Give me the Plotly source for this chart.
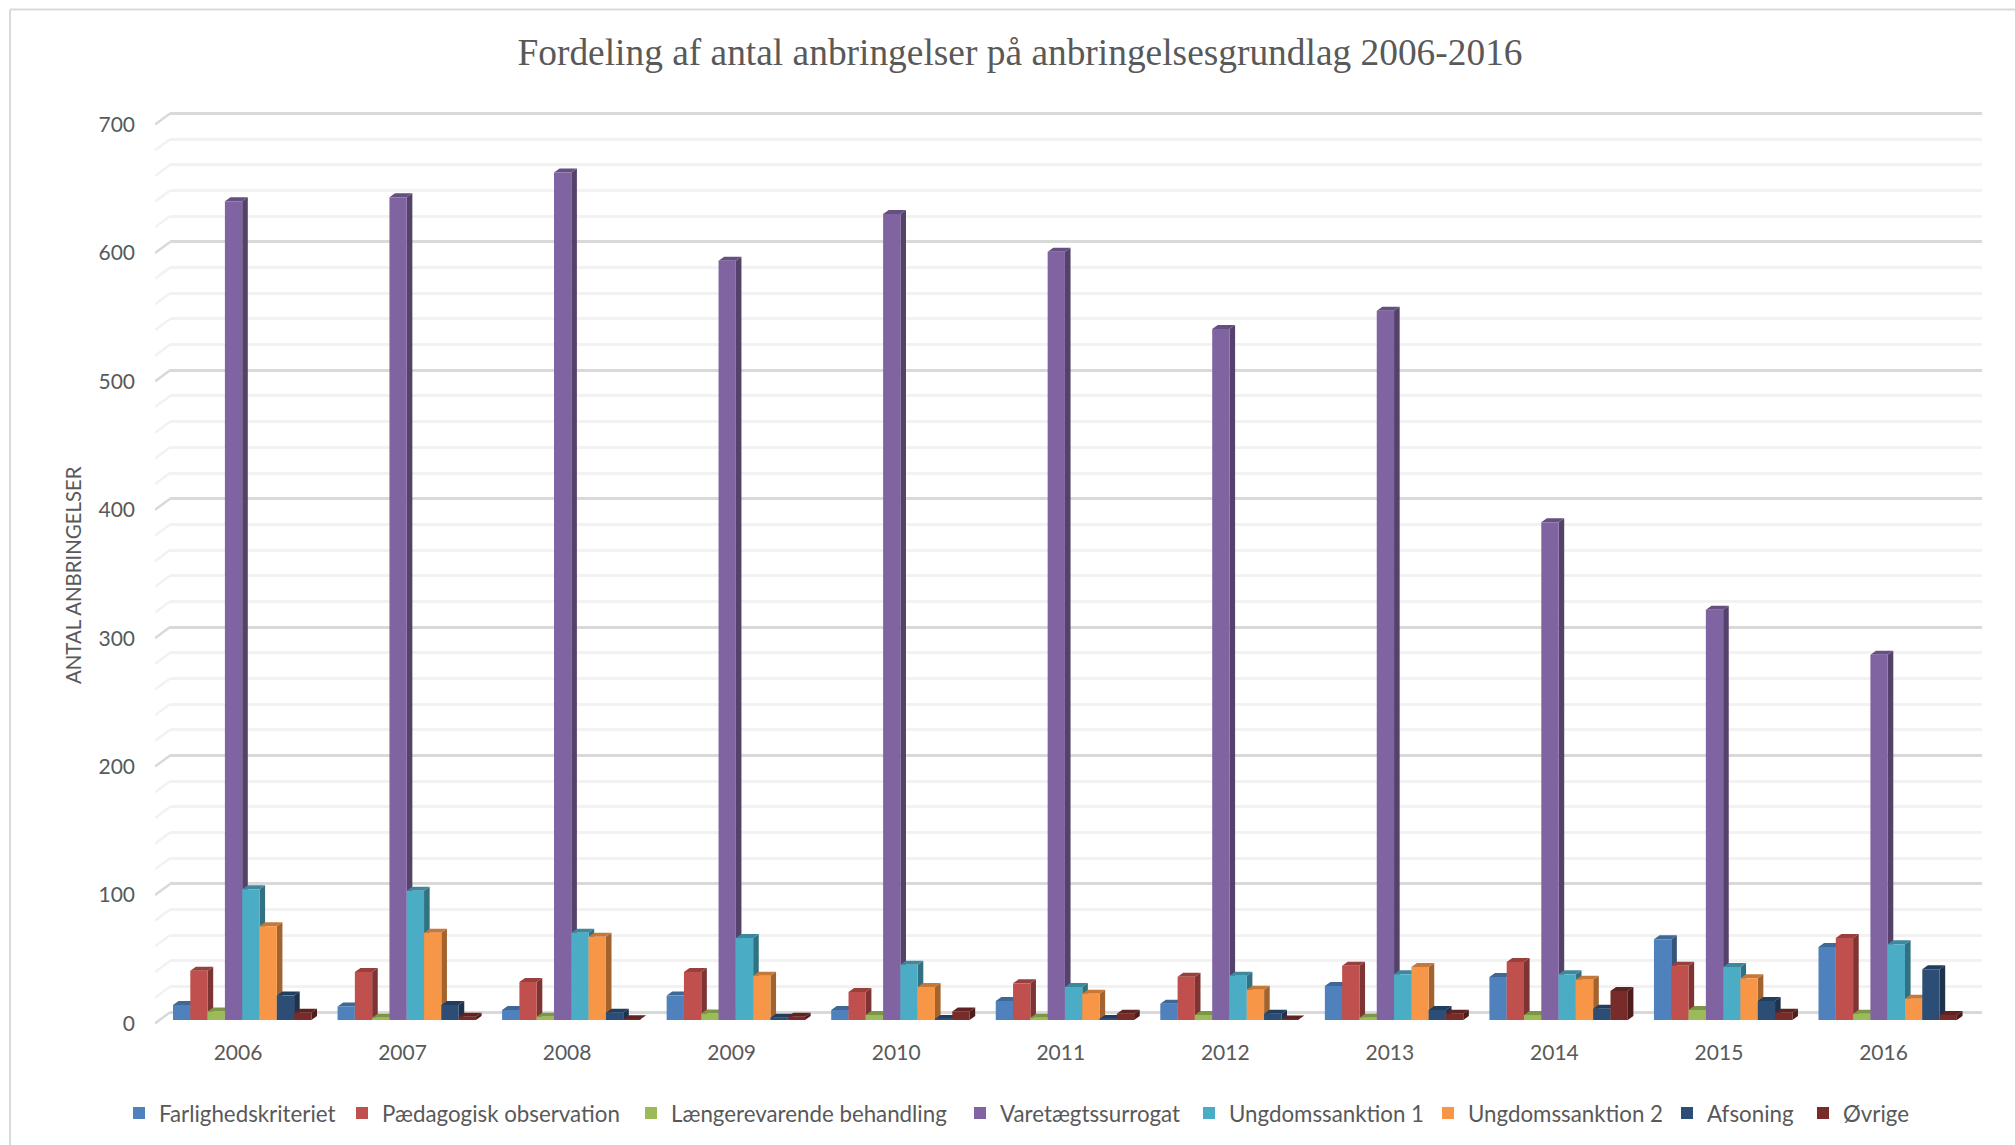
import plotly.graph_objects as go

# ---- data ----
years = ["2006", "2007", "2008", "2009", "2010", "2011", "2012", "2013", "2014", "2015", "2016"]
farlighed = [11.7, 10.6, 7.8, 19.0, 7.8, 14.8, 12.7, 26.5, 33.5, 62.8, 56.9]
paedagogisk = [38.4, 37.4, 29.6, 37.4, 21.8, 28.6, 33.7, 42.3, 45.2, 42.3, 63.9]
laengere = [6.7, 1.8, 2.6, 5.0, 3.9, 1.8, 3.9, 1.8, 3.9, 7.8, 4.9]
varetaegt = [637.6, 640.7, 660.0, 591.4, 627.7, 598.4, 538.2, 552.4, 387.6, 319.6, 284.5]
ungdom1 = [101.8, 100.7, 68.0, 63.9, 43.0, 25.7, 34.5, 35.6, 35.6, 41.3, 58.9]
ungdom2 = [73.0, 68.0, 64.9, 34.5, 25.7, 20.5, 23.6, 41.3, 31.4, 32.5, 16.6]
afsoning = [19.0, 11.7, 5.7, 1.8, 0.8, 0.8, 4.9, 7.8, 8.8, 14.8, 39.5]
oevrige = [5.7, 2.6, 0.5, 2.6, 6.7, 4.9, 0.3, 4.9, 22.6, 5.7, 3.9]

names = ["Farlighedskriteriet", "Pædagogisk observation", "Længerevarende behandling",
         "Varetægtssurrogat", "Ungdomssanktion 1", "Ungdomssanktion 2", "Afsoning", "Øvrige"]
values = [farlighed, paedagogisk, laengere, varetaegt, ungdom1, ungdom2, afsoning, oevrige]
colors = ["#4F81BD", "#C0504D", "#9BBB59", "#8064A2", "#4BACC6", "#F79646", "#2C4D75", "#772C2A"]

major_ticks = [0, 100, 200, 300, 400, 500, 600, 700]
minor_ticks = [v for v in range(20, 700, 20) if v % 100]

# ---- geometry in pixels of the 2015x1145 page ----
W, H = 2015, 1145
PLOT_B = 1040                  # bottom of the plotting area; below it is a fixed margin
TOP, BOTTOM = 100, 1030        # vertical extent of all subplots
FRONT_L, BACK_L, RIGHT = 155, 170, 1982
STEP = 164.55                  # px per category
K = 1.284                      # px per value unit
LABEL_C, BAR_C = 238, 242.2    # px centre of first category: labels / bars
Y0_BAR, Y0_BACK, Y0_WALL = 1020, 1012.3, 1023.4
BAR_W = 17.3 / STEP
DEPTH_X, DEPTH_Y = 5.6 / STEP, 4 / K
legend_text_px = [159, 382, 671, 1000, 1229, 1468, 1707, 1843]
LEGEND_Y = 1113
GREY = "#595959"
FONT = "Lato"


def fy(px):
    return (PLOT_B - px) / PLOT_B


def shade(hex_color, f):
    r, g, b = (int(hex_color[i:i + 2], 16) for i in (1, 3, 5))
    return f"rgb({int(r * f)},{int(g * f)},{int(b * f)})"


def yr(y0):
    return [(y0 - BOTTOM) / K, (y0 - TOP) / K]


def xr(c):
    return [(FRONT_L - c) / STEP, (RIGHT - c) / STEP]


fig = go.Figure()

# carrier so the back-plane grid subplot exists
fig.add_trace(go.Scatter(x=[0.5] * len(major_ticks), y=major_ticks, xaxis="x", yaxis="y", mode="none",
                         showlegend=False, hoverinfo="skip"))

# 3D sides and tops, computed from the values
n_series = len(values)
for j, (vals, col) in enumerate(zip(values, colors)):
    sx, sy, tx, ty = [], [], [], []
    for i, v in enumerate(vals):
        left = i - n_series * BAR_W / 2 + j * BAR_W
        right = left + BAR_W
        sx += [right, right + DEPTH_X, right + DEPTH_X, right, right, None]
        sy += [0, DEPTH_Y, v + DEPTH_Y, v, 0, None]
        tx += [left, right, right + DEPTH_X, left + DEPTH_X, left, None]
        ty += [v, v, v + DEPTH_Y, v + DEPTH_Y, v, None]
    fig.add_trace(go.Scatter(x=sx, y=sy, xaxis="x3", yaxis="y3", mode="lines", fill="toself",
                             line=dict(width=0), fillcolor=shade(col, 0.66),
                             showlegend=False, hoverinfo="skip"))
    fig.add_trace(go.Scatter(x=tx, y=ty, xaxis="x3", yaxis="y3", mode="lines", fill="toself",
                             line=dict(width=0), fillcolor=shade(col, 0.8),
                             showlegend=False, hoverinfo="skip"))

# front faces
for j, (name, vals, col) in enumerate(zip(names, values, colors)):
    fig.add_trace(go.Bar(x=list(range(len(years))), y=vals, name=name, xaxis="x4", yaxis="y4",
                         marker=dict(color=col, line=dict(width=0)),
                         legend="legend" if j == 0 else f"legend{j + 1}"))

# wall segments joining the tick positions to the back plane grid
wall_dx = (BACK_L - FRONT_L) / STEP
wall_dy = (Y0_WALL - Y0_BACK) / K
x_left = xr(LABEL_C)[0]
for ticks, col in ((major_ticks, "#D9D9D9"), (minor_ticks, "#F2F2F2")):
    wx, wy = [], []
    for v in ticks:
        wx += [x_left, x_left + wall_dx, None]
        wy += [v, v + wall_dy, None]
    fig.add_trace(go.Scatter(x=wx, y=wy, xaxis="x2", yaxis="y2", mode="lines",
                             line=dict(color=col, width=2.5), showlegend=False, hoverinfo="skip"))

ydom = [fy(BOTTOM), fy(TOP)]
fdom = [FRONT_L / W, RIGHT / W]
bdom = [BACK_L / W, RIGHT / W]
tick_font = dict(family=FONT, size=21, color=GREY)

layout = dict(
    width=W, height=H, margin=dict(l=0, r=0, t=0, b=H - PLOT_B), autosize=False,
    paper_bgcolor="white", plot_bgcolor="rgba(0,0,0,0)",
    barmode="group", bargap=1 - n_series * BAR_W, bargroupgap=0,
    # back-plane grid
    xaxis=dict(domain=bdom, range=[0, 1], anchor="y", showticklabels=False, showgrid=False, zeroline=False,
               showline=False, ticks=""),
    yaxis=dict(domain=ydom, range=yr(Y0_BACK), anchor="x", tickvals=major_ticks, showticklabels=False,
               showgrid=True, gridcolor="#D9D9D9", gridwidth=2.5, zeroline=False, showline=False, ticks="",
               minor=dict(tickvals=minor_ticks, showgrid=True, gridcolor="#F2F2F2", gridwidth=2.5, ticks="")),
    # front plane: tick labels and wall
    xaxis2=dict(domain=fdom, range=xr(LABEL_C), anchor="y2", tickvals=list(range(len(years))), ticktext=years,
                showgrid=False, zeroline=False, showline=False, ticks="", tickfont=tick_font,
                ticklabelstandoff=8),
    yaxis2=dict(domain=ydom, range=yr(Y0_WALL), anchor="x2", tickvals=major_ticks, showgrid=False,
                zeroline=False, showline=False, ticks="", tickfont=tick_font, ticklabelstandoff=19),
    # bars
    xaxis3=dict(domain=fdom, range=xr(BAR_C), anchor="y3", visible=False),
    yaxis3=dict(domain=ydom, range=yr(Y0_BAR), anchor="x3", visible=False),
    xaxis4=dict(domain=fdom, range=xr(BAR_C), anchor="y4", visible=False),
    yaxis4=dict(domain=ydom, range=yr(Y0_BAR), anchor="x4", visible=False),
    title=dict(text="Fordeling af antal anbringelser på anbringelsesgrundlag 2006-2016",
               x=1020 / W, xanchor="center", y=1 - 52 / H, yanchor="middle",
               font=dict(family="Liberation Serif", size=37.4, color=GREY)),
    annotations=[dict(text="ANTAL ANBRINGELSER", textangle=-90, xref="paper", yref="paper",
                      x=73 / W, y=fy(575), xanchor="center", yanchor="middle", showarrow=False,
                      font=dict(family=FONT, size=20.4, color=GREY))],
    shapes=[
        dict(type="line", xref="paper", yref="paper", x0=10 / W, x1=10 / W, y0=fy(H), y1=fy(9.5),
             line=dict(color="#D9D9D9", width=2)),
        dict(type="line", xref="paper", yref="paper", x0=10 / W, x1=1, y0=fy(9.5), y1=fy(9.5),
             line=dict(color="#D9D9D9", width=2)),
    ],
)
for j, px in enumerate(legend_text_px):
    key = "legend" if j == 0 else f"legend{j + 1}"
    layout[key] = dict(x=(px - 40) / W, y=fy(LEGEND_Y), xanchor="left", yanchor="middle",
                       orientation="h", bgcolor="rgba(0,0,0,0)", borderwidth=0,
                       font=dict(family=FONT, size=22.3, color=GREY))

fig.update_layout(**layout)

# legend swatches: 14 px squares close to their text, and no default page margin
post = """
document.body.style.margin = '0';
var gd = document.getElementById('{plot_id}');
function fixSwatches() {
  document.querySelectorAll('.legend path.legendbar').forEach(function (p) {
    p.setAttribute('d', 'M15,7H1V-7H15Z');
  });
}
gd.on('plotly_afterplot', fixSwatches);
fixSwatches();
setTimeout(fixSwatches, 50);
"""
fig.write_html("out.html", post_script=post, config=dict(displayModeBar=False))
